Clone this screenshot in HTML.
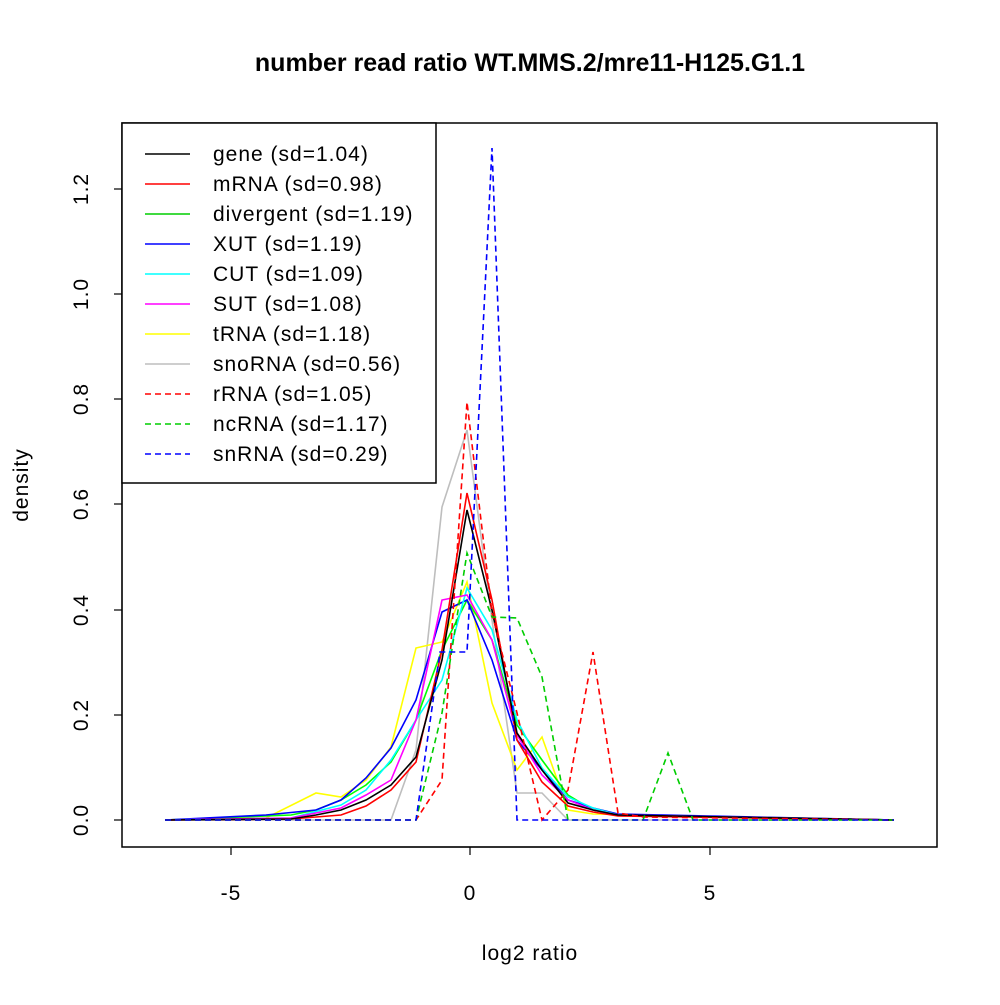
<!DOCTYPE html>
<html><head><style>body{margin:0;background:#fff}</style></head><body>
<svg width="1000" height="1000" xmlns="http://www.w3.org/2000/svg" font-family="Liberation Sans, sans-serif">
<rect width="1000" height="1000" fill="#fff"/>
<text x="530" y="71" font-size="25" font-weight="bold" text-anchor="middle">number read ratio WT.MMS.2/mre11-H125.G1.1</text>
<rect x="122" y="123" width="815" height="724" fill="none" stroke="#000" stroke-width="1.5"/>
<g stroke="#000" stroke-width="1.2">
<line x1="231" y1="847" x2="710" y2="847"/>
<line x1="231" y1="847" x2="231" y2="855"/><line x1="470" y1="847" x2="470" y2="855"/><line x1="710" y1="847" x2="710" y2="855"/>
<line x1="122" y1="189" x2="122" y2="820"/>
<line x1="122" y1="820" x2="114" y2="820"/><line x1="122" y1="715" x2="114" y2="715"/><line x1="122" y1="610" x2="114" y2="610"/><line x1="122" y1="504" x2="114" y2="504"/><line x1="122" y1="399" x2="114" y2="399"/><line x1="122" y1="294" x2="114" y2="294"/><line x1="122" y1="189" x2="114" y2="189"/>
</g>
<g font-size="21" text-anchor="middle" letter-spacing="1">
<text x="231" y="900">-5</text><text x="470" y="900">0</text><text x="710" y="900">5</text>
<text x="530" y="960">log2 ratio</text>
<g transform="rotate(-90)">
<text x="-820" y="88">0.0</text><text x="-715" y="88">0.2</text><text x="-610" y="88">0.4</text><text x="-504" y="88">0.6</text><text x="-399" y="88">0.8</text><text x="-294" y="88">1.0</text><text x="-189" y="88">1.2</text>
<text x="-485" y="28">density</text>
</g></g>
<g fill="none" stroke-width="1.6">
<polyline stroke="#bebebe" points="165,820 391,820 416,750 442,507 467,430 492,620 517,793 542,793 568,820 894,820"/>
<polyline stroke="#ff0" points="165,820 266,818 316,793 341,797 366,780 391,747 416,648 442,642 467,582 492,703 517,770 542,737 568,810 593,814 894,820"/>
<polyline stroke="#00ff00" points="165,820 291,815 316,810 341,800 366,785 391,762 416,720 442,650 467,600 492,640 517,725 542,760 568,795 593,810 618,815 894,820"/>
<polyline stroke="#0000ff" points="165,820 266,815 316,810 341,800 366,778 391,748 416,700 442,612 467,600 492,660 517,740 542,770 568,800 593,808 618,814 894,820"/>
<polyline stroke="#00ffff" points="165,820 291,818 341,805 366,790 391,760 416,720 442,680 467,588 492,630 517,720 542,768 568,797 593,808 618,815 894,820"/>
<polyline stroke="#ff00ff" points="165,820 291,818 341,808 366,795 391,780 416,720 442,600 467,595 492,640 517,735 542,775 568,800 593,810 618,815 894,820"/>
<polyline stroke="#ff0000" points="165,820 291,819 341,815 366,806 391,790 416,762 442,650 467,493 492,600 517,740 542,782 568,806 593,812 618,816 894,820"/>
<polyline stroke="#000" points="165,820 291,819 316,815 341,810 366,800 391,785 416,757 442,660 467,510 492,610 517,733 542,770 568,803 593,810 618,815 894,820"/>
</g>
<g fill="none" stroke-width="1.6" stroke-dasharray="6,4">
<polyline stroke="#ff0000" points="165,820 416,820 442,780 467,402 492,613 517,713 542,820 568,790 593,652 618,813 643,817 894,820"/>
<polyline stroke="#00cd00" points="165,820 416,820 442,713 467,553 492,617 517,618 542,677 568,820 643,820 668,753 693,820 894,820"/>
<polyline stroke="#0000ff" points="165,820 416,820 440,652 467,652 492,148 517,820 894,820"/>
</g>
<rect x="122" y="123" width="314" height="360" fill="#fff" stroke="#000" stroke-width="1.5"/>
<g stroke-width="1.6">
<line x1="145" x2="190" y1="154" y2="154" stroke="#000"/>
<line x1="145" x2="190" y1="184" y2="184" stroke="#f00"/>
<line x1="145" x2="190" y1="214" y2="214" stroke="#00cd00"/>
<line x1="145" x2="190" y1="244" y2="244" stroke="#00f"/>
<line x1="145" x2="190" y1="274" y2="274" stroke="#0ff"/>
<line x1="145" x2="190" y1="304" y2="304" stroke="#f0f"/>
<line x1="145" x2="190" y1="334" y2="334" stroke="#ff0"/>
<line x1="145" x2="190" y1="364" y2="364" stroke="#bebebe"/>
<g stroke-dasharray="6,4">
<line x1="145" x2="190" y1="394" y2="394" stroke="#f00"/>
<line x1="145" x2="190" y1="424" y2="424" stroke="#00cd00"/>
<line x1="145" x2="190" y1="454" y2="454" stroke="#00f"/>
</g></g>
<g font-size="21" letter-spacing="1">
<text x="213" y="161">gene (sd=1.04)</text>
<text x="213" y="191">mRNA (sd=0.98)</text>
<text x="213" y="221">divergent (sd=1.19)</text>
<text x="213" y="251">XUT (sd=1.19)</text>
<text x="213" y="281">CUT (sd=1.09)</text>
<text x="213" y="311">SUT (sd=1.08)</text>
<text x="213" y="341">tRNA (sd=1.18)</text>
<text x="213" y="371">snoRNA (sd=0.56)</text>
<text x="213" y="401">rRNA (sd=1.05)</text>
<text x="213" y="431">ncRNA (sd=1.17)</text>
<text x="213" y="461">snRNA (sd=0.29)</text>
</g>
</svg>
</body></html>
